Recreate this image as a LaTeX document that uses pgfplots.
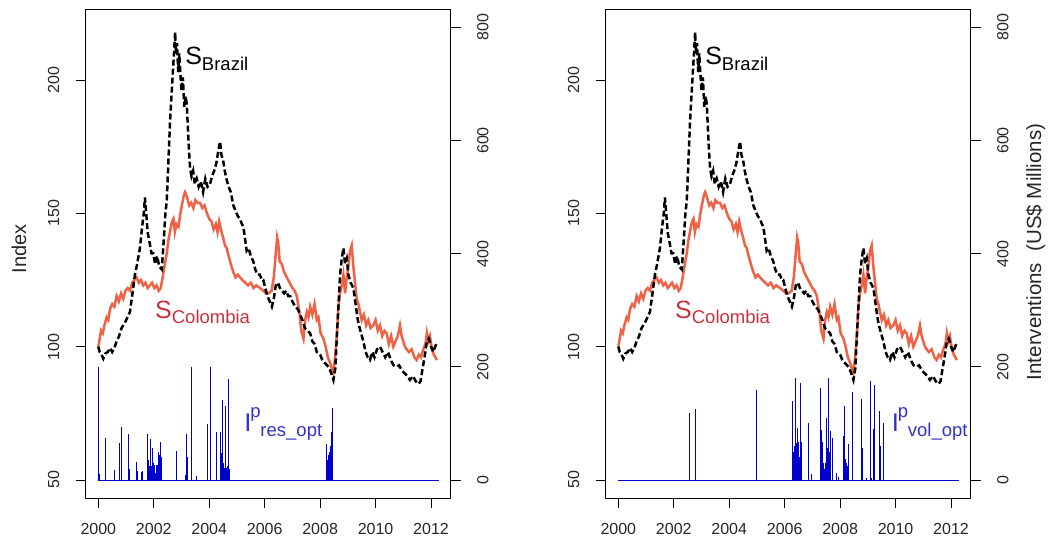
\documentclass[border=0pt]{standalone}
\usepackage{fontspec}
\setmainfont{Liberation Sans}
\usepackage{pgfplots}
\usepackage{pgfplotstable}
\pgfplotsset{compat=1.18}
\definecolor{colo}{RGB}{240,98,70}
\definecolor{colotext}{RGB}{200,50,60}
\definecolor{intblue}{RGB}{0,0,205}
\definecolor{itext}{RGB}{50,50,200}

\pgfplotstableread{
x y
2000.00 100
2000.05 98
2000.12 97
2000.18 95.5
2000.26 97.5
2000.34 98
2000.42 99.5
2000.50 98
2000.58 99.5
2000.66 102
2000.75 104
2000.84 107
2000.96 109
2001.05 111
2001.14 113
2001.22 119
2001.32 127
2001.40 131
2001.50 137
2001.58 145
2001.64 150
2001.68 156
2001.72 151
2001.78 143
2001.85 139
2001.92 135
2001.98 135
2002.05 131
2002.12 134
2002.20 130
2002.29 129
2002.36 140
2002.42 150
2002.47 155
2002.53 170
2002.59 185
2002.65 196
2002.70 205
2002.74 212
2002.77 218
2002.80 210
2002.84 214
2002.88 203
2002.92 210
2002.95 204
2003.00 196
2003.05 201
2003.10 190
2003.15 194
2003.19 191
2003.24 180
2003.28 172
2003.31 167
2003.36 164
2003.42 166
2003.48 161
2003.55 163
2003.62 160
2003.70 162
2003.78 158
2003.86 163
2003.94 160
2004.03 161
2004.10 164
2004.18 166
2004.26 169
2004.32 173
2004.39 177
2004.44 172
2004.50 170
2004.56 166
2004.62 163
2004.70 160
2004.78 158
2004.87 153
2004.95 151
2005.03 149
2005.11 148
2005.18 146
2005.23 145
2005.30 140
2005.35 136
2005.42 137
2005.50 134
2005.59 132
2005.66 129
2005.74 127
2005.83 127
2005.90 125
2005.95 125
2006.02 122
2006.10 119
2006.18 117
2006.26 115
2006.33 118
2006.40 123
2006.48 124
2006.55 122
2006.62 121
2006.70 120
2006.78 121
2006.85 119
2006.92 119
2007.00 117
2007.10 115
2007.20 114
2007.28 112
2007.36 110
2007.45 107
2007.55 106
2007.64 105
2007.72 102
2007.80 101
2007.88 98
2007.94 97.5
2008.00 97
2008.08 95
2008.16 94
2008.25 93
2008.33 92
2008.40 90
2008.48 87.5
2008.55 92
2008.60 103
2008.66 115
2008.72 127
2008.78 133
2008.84 137
2008.90 131
2008.96 133
2009.02 127
2009.10 124
2009.20 122
2009.28 116
2009.36 110
2009.45 106
2009.56 102
2009.64 98
2009.72 96
2009.80 95
2009.88 98
2009.96 96
2010.05 99
2010.16 100
2010.25 98
2010.35 96
2010.45 98
2010.55 95
2010.65 93
2010.76 92.5
2010.85 93
2010.95 91
2011.05 90
2011.15 89
2011.24 87.5
2011.35 89
2011.45 87
2011.55 86
2011.62 87
2011.70 92
2011.78 97
2011.85 102
2011.92 103
2012.00 100
2012.08 98
2012.15 100
2012.21 101.5
}\brazil

\pgfplotstableread{
x y
2000.00 100
2000.05 103
2000.10 106
2000.16 105
2000.22 108
2000.30 111
2000.36 110
2000.42 114
2000.50 116
2000.58 115
2000.66 119
2000.74 117
2000.82 120
2000.90 118
2000.98 121
2001.06 122
2001.14 121
2001.22 124
2001.30 125
2001.38 126
2001.46 124
2001.54 125
2001.62 123
2001.70 124
2001.78 122
2001.86 123
2001.94 124
2002.02 122
2002.10 123
2002.18 121
2002.25 122
2002.32 126
2002.40 131
2002.47 135
2002.53 140
2002.60 144
2002.66 147
2002.71 148
2002.76 143
2002.82 146
2002.89 145
2002.96 150
2003.03 154
2003.09 157
2003.13 158
2003.20 156
2003.28 153
2003.35 154
2003.43 152
2003.50 155
2003.58 154
2003.67 154
2003.75 152
2003.83 153
2003.92 150
2004.00 148
2004.08 147
2004.16 144
2004.24 146
2004.30 143
2004.36 147
2004.42 144
2004.50 141
2004.57 138
2004.63 137
2004.70 134
2004.78 131
2004.87 128
2004.95 126
2005.03 127
2005.11 126
2005.20 125
2005.30 124
2005.40 123
2005.50 124
2005.60 122
2005.70 123
2005.83 122
2005.95 121
2006.05 120
2006.15 120
2006.25 121
2006.33 126
2006.40 135
2006.45 141
2006.49 139
2006.54 132
2006.62 131
2006.70 128
2006.80 126
2006.90 124
2007.00 122
2007.08 121
2007.16 119
2007.25 113
2007.32 106
2007.40 103
2007.46 110
2007.52 113
2007.58 111
2007.64 115
2007.72 112
2007.80 116
2007.88 110
2007.94 111
2008.02 105
2008.12 103
2008.20 100
2008.28 96
2008.36 94
2008.44 91
2008.48 90
2008.54 96
2008.60 104
2008.66 115
2008.72 120
2008.78 123
2008.84 127
2008.90 120
2008.96 126
2009.02 130
2009.08 136
2009.14 138
2009.20 130
2009.26 124
2009.32 118
2009.38 116
2009.44 113
2009.50 110
2009.58 112
2009.66 108
2009.74 110
2009.82 107
2009.92 108
2010.00 110
2010.08 106
2010.16 108
2010.24 104
2010.32 106
2010.40 105
2010.48 101
2010.56 104
2010.64 100
2010.72 102
2010.80 104
2010.88 108
2010.94 104
2011.00 102
2011.06 100
2011.12 99
2011.20 98
2011.30 99
2011.40 96
2011.48 95
2011.56 97
2011.64 96
2011.72 99
2011.80 101
2011.85 105
2011.90 102
2011.96 104
2012.02 100
2012.10 97
2012.16 96
2012.21 95
}\colombia

\pgfplotstableread{
x y
2000.00 200
2000.05 10
2000.24 74
2000.57 17
2000.76 65
2000.84 94
2001.08 81
2001.11 20
2001.36 31
2001.42 16
2001.55 14
2001.60 16
2001.77 20
2001.78 81
2001.79 30
2001.81 36
2001.83 18
2001.85 25
2001.87 72
2001.89 15
2001.91 25
2001.92 25
2001.94 20
2001.96 56
2001.98 30
2002.00 18
2002.01 26
2002.03 12
2002.06 12
2002.08 20
2002.10 26
2002.12 26
2002.14 15
2002.16 30
2002.18 50
2002.20 35
2002.21 45
2002.23 68
2002.25 30
2002.27 40
2002.29 15
2002.80 52
2003.13 9
2003.19 81
2003.23 40
2003.37 200
2003.52 7
2003.92 99
2004.03 200
2004.27 84
2004.40 85
2004.43 22
2004.44 47
2004.45 22
2004.46 25
2004.47 22
2004.48 20
2004.49 141
2004.50 30
2004.51 30
2004.52 22
2004.53 20
2004.54 20
2004.55 22
2004.56 20
2004.57 25
2004.58 22
2004.59 20
2004.60 131
2004.61 22
2004.62 20
2004.63 22
2004.64 20
2004.65 22
2004.66 25
2004.67 22
2004.68 178
2004.69 22
2004.70 20
2004.71 20
2004.72 20
2008.24 63
2008.25 25
2008.26 30
2008.27 35
2008.28 30
2008.29 40
2008.30 30
2008.31 45
2008.32 35
2008.33 40
2008.34 45
2008.35 50
2008.36 52
2008.37 45
2008.38 60
2008.39 70
2008.40 85
2008.41 80
2008.42 75
2008.43 85
2008.44 127
2008.45 60
}\resint

\pgfplotstableread{
x y
2002.57 118
2002.77 125
2004.97 159
2006.28 140
2006.29 30
2006.30 40
2006.31 27
2006.32 50
2006.33 35
2006.34 60
2006.35 45
2006.36 55
2006.37 181
2006.38 55
2006.39 60
2006.40 45
2006.41 65
2006.42 60
2006.43 40
2006.44 50
2006.45 30
2006.46 45
2006.47 92
2006.48 55
2006.49 60
2006.50 68
2006.51 45
2006.52 40
2006.53 35
2006.55 171
2006.56 50
2006.57 45
2006.59 68
2006.61 20
2006.84 101
2006.98 10
2007.30 162
2007.31 60
2007.32 50
2007.33 88
2007.34 45
2007.35 40
2007.37 67
2007.39 30
2007.43 20
2007.47 30
2007.50 109
2007.52 40
2007.55 56
2007.57 30
2007.59 180
2007.61 50
2007.64 87
2007.66 40
2007.73 74
2007.88 12
2007.92 5
2008.12 77
2008.15 131
2008.16 35
2008.17 30
2008.18 25
2008.19 30
2008.20 37
2008.21 25
2008.22 20
2008.24 30
2008.26 25
2008.28 15
2008.30 63
2008.43 156
2008.77 144
2008.80 56
2008.94 3
2009.09 175
2009.14 3
2009.19 90
2009.24 168
2009.43 122
2009.46 60
2009.56 101
}\volint

\pgfplotsset{
  common/.style={scale only axis, width=365pt, height=489pt,
    xmin=1999.545, xmax=2012.71,
    /pgf/number format/assume math mode=true,
    /pgf/number format/set thousands separator={},
    tick align=outside, major tick length=10pt,
    tick style={black, line width=0.8pt},
    tick label style={font=\fontsize{16}{16}\selectfont, text=black!85},
    axis line style={line width=0.9pt},
    xticklabel shift=11pt, yticklabel shift=13pt,
  },
  leftax/.style={common, ymin=43.1, ymax=226.6,
    xtick={2000,2002,2004,2006,2008,2010,2012}, ytick={50,100,150,200},
    xtick pos=left, ytick pos=left,
    yticklabel style={rotate=90, anchor=south},
  },
  rightax/.style={common, ymin=-32.3, ymax=831.8,
    axis x line=none, axis y line*=right,
    ytick={0,200,400,600,800},
    yticklabel style={rotate=90, anchor=north},
  },
  brz/.style={black, line width=2.5pt, dash pattern=on 6pt off 3pt, no marks},
  col/.style={colo, line width=2.5pt, no marks},
  intv/.style={intblue, ycomb, line width=0.8pt, no marks},
}

\newcommand{\Slabels}{%
  \node[anchor=base west, inner sep=0pt] at (axis cs:2003.13,205.7)
    {\fontsize{25}{25}\selectfont S\raisebox{-5.7pt}{\fontsize{18.5}{18.5}\selectfont Brazil}};
  \node[anchor=base west, inner sep=0pt, text=colotext] at (axis cs:2002.045,110.75)
    {\fontsize{25}{25}\selectfont S\raisebox{-5.7pt}{\fontsize{18.5}{18.5}\selectfont Colombia}};
}

\begin{document}
\begin{tikzpicture}[x=1pt,y=1pt]
\path[use as bounding box] (0,0) rectangle (1053,539);

% ---------- Panel 1 ----------
\begin{axis}[leftax, at={(85.7pt,40.7pt)}, anchor=south west,
  ylabel={Index},
  ylabel style={at={(axis description cs:-0.1827,0.5098)}, anchor=center,
    font=\fontsize{20}{20}\selectfont, text=black!85}]
\addplot[col] table {\colombia};
\addplot[brz] table {\brazil};
\Slabels
\node[anchor=base west, inner sep=0pt, text=itext] at (axis cs:2005.265,68.2)
  {\fontsize{25.6}{26}\selectfont I};
\node[anchor=base west, inner sep=0pt, text=itext, xshift=6pt, yshift=14pt] at (axis cs:2005.265,68.2)
  {\fontsize{18.5}{19}\selectfont p};
\node[anchor=base west, inner sep=0pt, text=itext, xshift=16pt, yshift=-5pt] at (axis cs:2005.265,68.2)
  {\fontsize{18.5}{19}\selectfont res\_opt};
\end{axis}
\begin{axis}[rightax, at={(85.7pt,40.7pt)}, anchor=south west]
\addplot[intv] table {\resint};
\addplot[intblue, line width=0.9pt, no marks] coordinates {(2000,0) (2012.27,0)};
\end{axis}

% ---------- Panel 2 ----------
\begin{axis}[leftax, at={(605.7pt,40.7pt)}, anchor=south west]
\addplot[col] table {\colombia};
\addplot[brz] table {\brazil};
\Slabels
\node[anchor=base west, inner sep=0pt, text=itext] at (axis cs:2009.86,68.2)
  {\fontsize{25.6}{26}\selectfont I};
\node[anchor=base west, inner sep=0pt, text=itext, xshift=6pt, yshift=14pt] at (axis cs:2009.86,68.2)
  {\fontsize{18.5}{19}\selectfont p};
\node[anchor=base west, inner sep=0pt, text=itext, xshift=16pt, yshift=-5pt] at (axis cs:2009.86,68.2)
  {\fontsize{18.5}{19}\selectfont vol\_opt};
\end{axis}
\begin{axis}[rightax, at={(605.7pt,40.7pt)}, anchor=south west,
  ylabel={Interventions\ \ (US\$ Millions)},
  ylabel style={at={(axis description cs:1.178,0.5037)}, anchor=center,
    font=\fontsize{20.5}{21}\selectfont, text=black!85}]
\addplot[intv] table {\volint};
\addplot[intblue, line width=0.9pt, no marks] coordinates {(2000,0) (2012.27,0)};
\end{axis}
\end{tikzpicture}
\end{document}
